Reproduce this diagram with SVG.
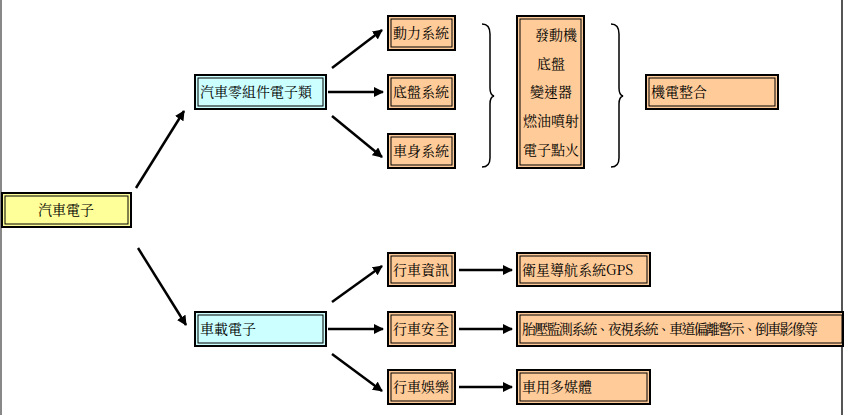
<svg xmlns="http://www.w3.org/2000/svg" width="844" height="415" viewBox="0 0 844 415">
<defs>
<style>
.o{stroke:#000;stroke-width:2}
.i{fill:none;stroke:#000;stroke-width:1}
.y{fill:#FFFF99}.c{fill:#CCFFFF}.r{fill:#FFCC99}
text{font-family:"Noto Serif CJK TC","Noto Sans CJK TC",serif;font-size:14px;fill:#000}
.a{stroke:#000;stroke-width:2.5;fill:none;marker-end:url(#m)}
.b{stroke:#000;stroke-width:1.5;fill:none}
</style>
<marker id="m" viewBox="0 0 10 10" refX="9" refY="5" markerWidth="4" markerHeight="4" orient="auto"><path d="M0,0L10,5L0,10z" fill="#000"/></marker>
</defs>
<rect width="844" height="415" fill="#fff"/>
<line x1="1" y1="0" x2="1" y2="415" stroke="#888" stroke-width="2"/>
<line x1="842" y1="0" x2="842" y2="415" stroke="#555" stroke-width="2"/>
<g id="connectors">
<line class="a" x1="136" y1="188" x2="184" y2="111"/>
<line class="a" x1="332" y1="68" x2="382" y2="30"/>
<line class="a" x1="328" y1="92" x2="383" y2="92"/>
<line class="a" x1="332" y1="116" x2="382" y2="157"/>
<line class="a" x1="138" y1="248" x2="186" y2="325"/>
<line class="a" x1="332" y1="302" x2="382" y2="266"/>
<line class="a" x1="328" y1="329" x2="383" y2="329"/>
<line class="a" x1="332" y1="354" x2="382" y2="391"/>
<line class="a" x1="459" y1="270" x2="512" y2="270"/>
<line class="a" x1="459" y1="329" x2="512" y2="329"/>
<line class="a" x1="459" y1="387" x2="512" y2="387"/>
<path class="b" d="M482,24 Q490,24 490,34 L490,88 Q490,95 494,96 Q490,97 490,104 L490,158 Q490,167 482,167"/>
<path class="b" d="M611,24 Q619,24 619,34 L619,88 Q619,95 623,96 Q619,97 619,104 L619,158 Q619,167 611,167"/>
</g>
<g id="n1"><rect class="o y" x="2" y="193" width="129" height="34"/><rect class="i" x="5" y="196" width="123" height="28"/><text x="66" y="215" text-anchor="middle">汽車電子</text></g>
<g id="n2"><rect class="o c" x="195" y="75" width="131" height="34"/><rect class="i" x="198" y="78" width="125" height="28"/><text x="200" y="97">汽車零組件電子類</text></g>
<g id="n3"><rect class="o c" x="195" y="312" width="131" height="34"/><rect class="i" x="198" y="315" width="125" height="28"/><text x="200" y="334">車載電子</text></g>
<g id="n4"><rect class="o r" x="388" y="16" width="67" height="34"/><rect class="i" x="391" y="19" width="61" height="28"/><text x="393" y="38">動力系統</text></g>
<g id="n5"><rect class="o r" x="388" y="75" width="67" height="34"/><rect class="i" x="391" y="78" width="61" height="28"/><text x="393" y="97">底盤系統</text></g>
<g id="n6"><rect class="o r" x="388" y="134" width="67" height="34"/><rect class="i" x="391" y="137" width="61" height="28"/><text x="393" y="156">車身系統</text></g>
<g id="n7"><rect class="o r" x="517" y="16" width="67" height="152"/><rect class="i" x="520" y="19" width="61" height="146"/>
<text x="556" y="40" text-anchor="middle">發動機</text><text x="551" y="69" text-anchor="middle">底盤</text><text x="551" y="97" text-anchor="middle">變速器</text><text x="551" y="126" text-anchor="middle">燃油噴射</text><text x="551" y="155" text-anchor="middle">電子點火</text></g>
<g id="n8"><rect class="o r" x="646" y="75" width="132" height="34"/><rect class="i" x="649" y="78" width="126" height="28"/><text x="651" y="97">機電整合</text></g>
<g id="n9"><rect class="o r" x="388" y="253" width="67" height="33"/><rect class="i" x="391" y="256" width="61" height="27"/><text x="393" y="275">行車資訊</text></g>
<g id="n10"><rect class="o r" x="388" y="312" width="67" height="34"/><rect class="i" x="391" y="315" width="61" height="28"/><text x="393" y="334">行車安全</text></g>
<g id="n11"><rect class="o r" x="388" y="370" width="67" height="34"/><rect class="i" x="391" y="373" width="61" height="28"/><text x="393" y="392">行車娛樂</text></g>
<g id="n12"><rect class="o r" x="517" y="253" width="133" height="33"/><rect class="i" x="520" y="256" width="127" height="27"/><text x="522" y="275">衛星導航系統GPS</text></g>
<g id="n13"><rect class="o r" x="517" y="312" width="326" height="34"/><rect class="i" x="520" y="315" width="322" height="28"/><text x="522" y="334" textLength="296">胎壓監測系統、夜視系統、車道偏離警示、倒車影像等</text></g>
<g id="n14"><rect class="o r" x="517" y="370" width="133" height="34"/><rect class="i" x="520" y="373" width="127" height="28"/><text x="522" y="392">車用多媒體</text></g>
</svg>
